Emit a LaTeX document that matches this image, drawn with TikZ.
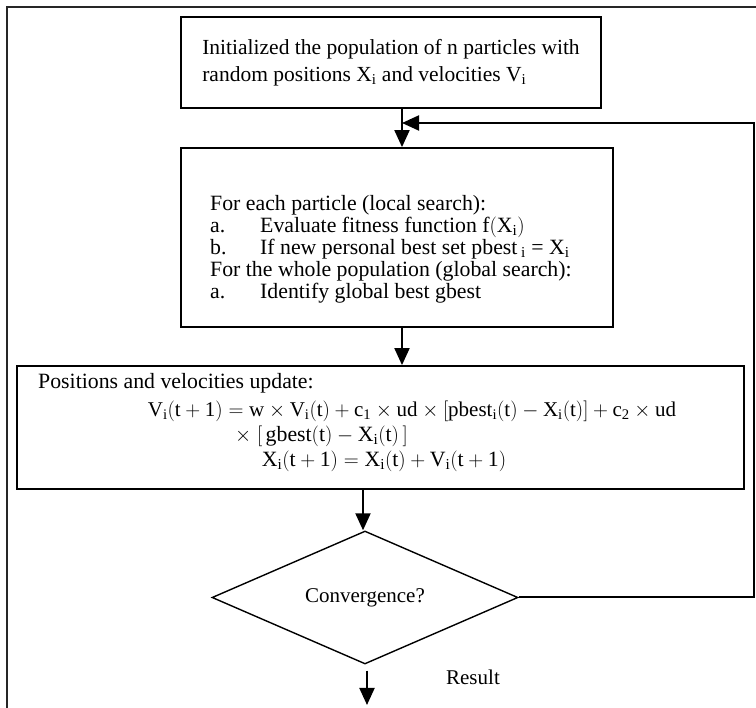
\documentclass[tikz,border=0pt]{standalone}
\usepackage{fontspec}
\setmainfont{Liberation Serif}
\usetikzlibrary{shapes.geometric, arrows.meta, positioning, calc}
\tikzset{
	process/.style ={rectangle, draw=black, line width=1.8pt, inner sep=0pt},
	decision/.style={diamond, draw=black, line width=1.4pt, inner sep=0pt, minimum width=306pt, minimum height=133pt, aspect=2.3},
	txt/.style     ={inner sep=0pt, align=left, font=\fontsize{21.8}{22}\selectfont},
	flowarrow/.style={-{Triangle[length=17pt, width=15pt]}, line width=2pt},
	frameline/.style={draw=black!85, line width=2.4pt},
}

\begin{document}
\begin{tikzpicture}[x=1pt, y=-1pt]
	\clip (0,0) rectangle (756,708);
	\draw[frameline] (7,720) -- (7,7) -- (770,7);
	% boxes
	\node[process, minimum width=420pt, minimum height=91pt, align=left, font=\fontsize{21.5}{27}\selectfont] (init) at (391,62.5)
		{Initialized the population of n particles with\\ random positions X\textsubscript{i} and velocities V\textsubscript{i}};
	\node[process, minimum width=432pt, minimum height=179pt] (search) at (397,237.5) {};
	\node[txt, anchor=west] (searchtxt) at (210,249.5)
		{For each particle (local search):\\
		 \makebox[50pt][l]{a.}Evaluate fitness function $\mathrm{f(X_i)}$\\
		 \makebox[50pt][l]{b.}If new personal best set pbest\,\textsubscript{i} = X\textsubscript{i}\\
		 For the whole population (global search):\\
		 \makebox[50pt][l]{a.}Identify global best gbest};
	\node[process, minimum width=727pt, minimum height=123pt] (update) at (380.5,427.5) {};
	\node[txt, anchor=west] (updtitle) at (38,383) {Positions and velocities update:};
	\node[txt, font=\fontsize{21}{22}\selectfont] (vline1) at (412,411)
		{$\mathrm{V_i(t+1) = w \times V_i(t) + c_1 \times ud \times [pbest_i(t) - X_i(t)] + c_2 \times ud}$};
	\node[txt, anchor=west] (vline2) at (235,436) {$\mathrm{\times\; [\,gbest(t) - X_i(t)\,]}$};
	\node[txt] (xline) at (384,461) {$\mathrm{X_i(t+1) = X_i(t) + V_i(t+1)}$};
	\node[decision, font=\fontsize{21}{22}\selectfont] (check) at (365,597.5) {Convergence?};
	\node[txt, font=\fontsize{21}{22}\selectfont] (result) at (473,677) {Result};
	% helper points
	\coordinate (joinpt) at (402,123);
	\coordinate (backcorner) at (754,123);
	\coordinate (done) at (367,705);
	% connectors
	\draw[flowarrow] (init.south -| joinpt) -- (search.north -| joinpt);
	\draw[flowarrow] (search.south -| joinpt) -- (update.north -| joinpt);
	\draw[flowarrow] (update.south -| 363,0) -- (check.north -| 363,0);
	\draw[flowarrow] (check.east) -- (check.east -| backcorner) -- (backcorner) -- (joinpt);
	\draw[flowarrow] ([yshift=-6pt]check.south -| done) -- (done);
\end{tikzpicture}
\end{document}
